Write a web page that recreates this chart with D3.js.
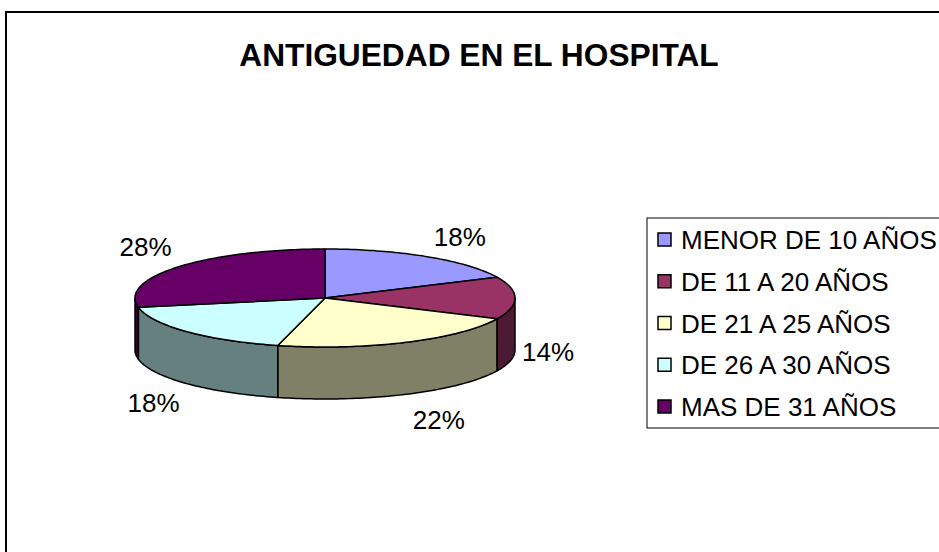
<!DOCTYPE html>
<html>
<head>
<meta charset="utf-8">
<script src="https://cdn.jsdelivr.net/npm/d3@7"></script>
<style>
  body { margin: 0; background: #fff; }
  text { font-family: Arial, "Liberation Sans", sans-serif; }
</style>
</head>
<body>
<div id="chart"></div>
<script>
// data
var categories = ["MENOR DE 10 AÑOS", "DE 11 A 20 AÑOS", "DE 21 A 25 AÑOS", "DE 26 A 30 AÑOS", "MAS DE 31 AÑOS"];
var values = [18, 14, 22, 18, 28];
var colors = ["#9999FF", "#993366", "#FFFFCC", "#CCFFFF", "#660066"];
var title = "ANTIGUEDAD EN EL HOSPITAL";

var width = 939, height = 552;
var cx = 325, cy = 298, rx = 190, ry = 49, depth = 52;

var svg = d3.select("#chart").append("svg")
    .attr("width", width)
    .attr("height", height);

svg.append("rect")
    .attr("width", width)
    .attr("height", height)
    .attr("fill", "#fff");

// chart frame (runs off the right and bottom)
svg.append("rect")
    .attr("x", 6).attr("y", 12)
    .attr("width", width + 20).attr("height", height + 20)
    .attr("fill", "none")
    .attr("stroke", "#000")
    .attr("stroke-width", 2);

svg.append("text")
    .attr("x", 479).attr("y", 66)
    .attr("text-anchor", "middle")
    .style("font-size", "31.7px")
    .style("font-weight", "bold")
    .text(title);

var pie = d3.pie().sort(null).value(function(d){ return d; });
var arcs = pie(values);

function pt(a, off){
    return [cx + rx * Math.sin(a), cy - ry * Math.cos(a) + (off || 0)];
}
function arcPoints(a0, a1, off){
    var n = Math.max(2, Math.ceil((a1 - a0) / 0.02));
    return d3.range(n + 1).map(function(i){ return pt(a0 + (a1 - a0) * i / n, off); });
}
var line = d3.line().curve(d3.curveLinearClosed);

function darker(c){
    var r = d3.rgb(c);
    return d3.rgb(r.r * 0.5, r.g * 0.5, r.b * 0.5).formatHex();
}

var g = svg.append("g");

// sides (only the front half is visible)
arcs.forEach(function(d, i){
    var s = Math.max(d.startAngle, Math.PI / 2);
    var e = Math.min(d.endAngle, Math.PI * 3 / 2);
    if (e <= s) return;
    var pts = arcPoints(s, e, 0).concat(arcPoints(s, e, depth).reverse());
    g.append("path")
        .attr("d", line(pts))
        .attr("fill", darker(colors[i]))
        .attr("stroke", "#000")
        .attr("stroke-width", 1.5)
        .attr("stroke-linejoin", "round");
});

// tops
arcs.forEach(function(d, i){
    var pts = [[cx, cy]].concat(arcPoints(d.startAngle, d.endAngle, 0));
    g.append("path")
        .attr("d", line(pts))
        .attr("fill", colors[i])
        .attr("stroke", "#000")
        .attr("stroke-width", 1.5)
        .attr("stroke-linejoin", "round");
});

// percentage labels, pushed outward from the rim
var total = d3.sum(values);
arcs.forEach(function(d){
    var a = (d.startAngle + d.endAngle) / 2;
    var p = pt(a, 0);
    var c = Math.cos(a), s = Math.sin(a);
    var dx = (s >= 0 ? 1 : -1) * 33;
    var dy = c < 0.1 ? depth + 2 - 26 * c : -20;
    svg.append("text")
        .attr("x", p[0] + dx)
        .attr("y", p[1] + dy)
        .attr("dy", "0.35em")
        .attr("text-anchor", "middle")
        .style("font-size", "26px")
        .text(Math.round(d.value / total * 100) + "%");
});

// legend
var legend = svg.append("g");
legend.append("rect")
    .attr("x", 647).attr("y", 218)
    .attr("width", 330).attr("height", 210)
    .attr("fill", "#fff")
    .attr("stroke", "#000")
    .attr("stroke-width", 1);

var rowY = d3.scalePoint().domain(categories).range([240, 407]);
categories.forEach(function(name, i){
    var y = rowY(name);
    legend.append("rect")
        .attr("x", 658).attr("y", y - 7)
        .attr("width", 13).attr("height", 13)
        .attr("fill", colors[i])
        .attr("stroke", "#000")
        .attr("stroke-width", 1.5);
    legend.append("text")
        .attr("x", 681).attr("y", y)
        .attr("dy", "0.35em")
        .style("font-size", "26px")
        .text(name);
});
</script>
</body>
</html>
